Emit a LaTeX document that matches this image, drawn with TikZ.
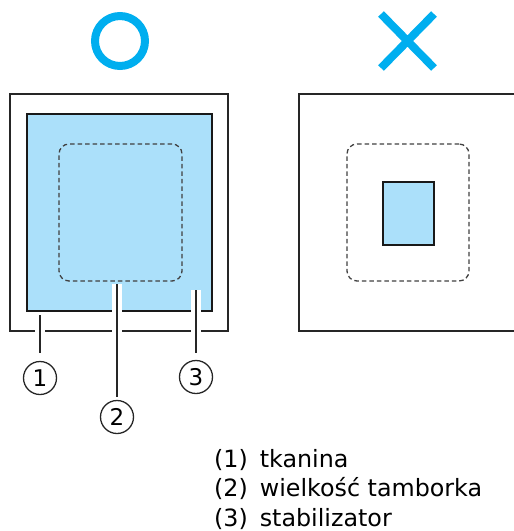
\documentclass[tikz,border=0pt]{standalone}
\usepackage{fontspec}
\setmainfont{DejaVu Sans}
\usepackage{xcolor}
\usetikzlibrary{positioning,shapes.misc}
\definecolor{stabblue}{RGB}{171,224,250}
\definecolor{markblue}{RGB}{0,174,239}
\newcommand{\numgap}{\hspace{0.5em}}

\begin{document}
\begin{tikzpicture}[x=1pt,y=-1pt,
  fab/.style={rectangle,draw=black!85,line width=1.7pt,inner sep=0pt},
  stab/.style={rectangle,draw=black!90,fill=stabblue,line width=1.3pt,inner sep=0pt},
  hoop/.style={rectangle,rounded corners=10pt,draw=black!75,line width=1.3pt,dash pattern=on 4.5pt off 3pt,inner sep=0pt},
  num/.style={circle,draw=black!85,line width=1.3pt,minimum size=33pt,inner sep=0pt,font=\fontsize{23}{23}\selectfont},
  leader/.style={draw=black!85,line width=1.4pt,preaction={draw=white,line width=10pt}}]
  \clip (0,0) rectangle (514,531);
  % good placement
  \node[circle,draw=markblue,line width=8pt,minimum size=50pt,inner sep=0pt](ok) at (120,41){};
  \node[fab,minimum width=218pt,minimum height=237pt](fabL) at (119,212.5){};
  \node[stab,minimum width=185pt,minimum height=197pt](stabL) at (119.5,212.5){};
  \node[hoop,minimum width=123pt,minimum height=137pt](hoopL) at (120.5,212.5){};
  % wrong placement
  \node[cross out,draw=markblue,line width=8pt,minimum width=45pt,minimum height=46pt,inner sep=0pt](bad) at (407.5,41){};
  \node[fab,minimum width=226pt,minimum height=237pt](fabR) at (412,212.5){};
  \node[hoop,minimum width=122pt,minimum height=137pt](hoopR) at (408,212.5){};
  \node[stab,minimum width=51pt,minimum height=63pt](stabR) at (408.5,213.5){};
  % leaders
  \coordinate(t1) at (40,315);
  \coordinate(t2) at (117,284);
  \coordinate(t3) at (196,290);
  \node[num](n1) at (40,378){1};
  \node[num](n2) at (117,417){2};
  \node[num](n3) at (196,377){3};
  \draw[leader,shorten >=8pt] (t1)--(n1.north);
  \draw[leader,shorten >=3pt] (t2)--(n2.north);
  \draw[leader,shorten >=7pt] (t3)--(n3.north);
  % legend
  \node[anchor=north west,align=left,inner sep=0pt,font=\fontsize{23.8}{29.5}\selectfont](lg) at (214,449)
    {(1)\numgap tkanina\\(2)\numgap wielkość tamborka\\(3)\numgap stabilizator};
\end{tikzpicture}
\end{document}
